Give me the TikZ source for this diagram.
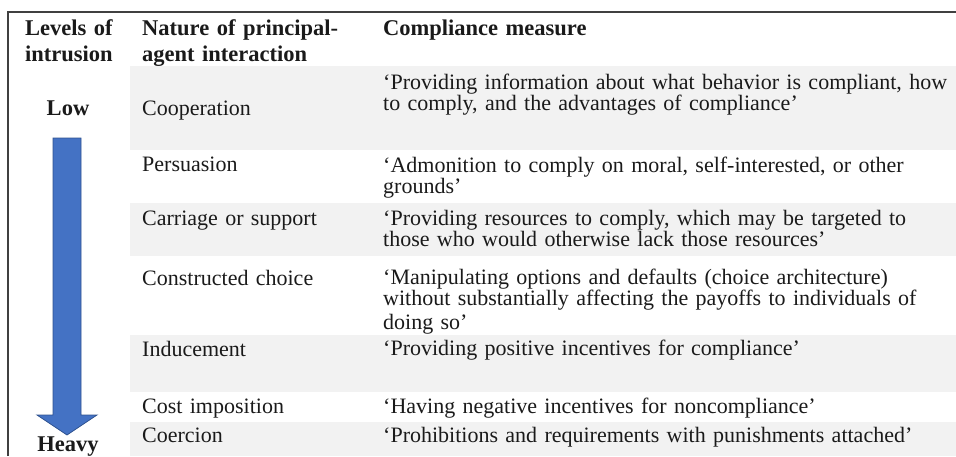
\documentclass[tikz,border=0pt]{standalone}
\usepackage{fontspec}
\setmainfont{Liberation Serif}
\definecolor{shade}{HTML}{F2F2F2}
\definecolor{rule}{HTML}{404040}
\definecolor{arrowfill}{HTML}{4472C4}
\definecolor{arrowedge}{HTML}{2F528F}
\definecolor{ink}{HTML}{1A1A1A}
\begin{document}
\begin{tikzpicture}[x=1pt,y=-1pt,
  cell/.style={anchor=base west,inner sep=0pt,text width=#1,align=left,text=ink,
    font=\fontsize{22}{19.5}\selectfont},
  cell/.default=600pt,
  head/.style={anchor=base west,inner sep=0pt,text width=#1,align=left,text=ink,
    font=\fontsize{22.5}{26}\selectfont\bfseries},
  head/.default=230pt,
  level/.style={anchor=base,inner sep=0pt,text=ink,font=\fontsize{22.5}{26}\selectfont\bfseries},
  band/.style={fill=shade,draw=none}]
\useasboundingbox (0,0) rectangle (956,456);
% shaded bands
\fill[band] (130,66) rectangle (956,150);
\fill[band] (130,203) rectangle (956,256);
\fill[band] (130,335) rectangle (956,392);
\fill[band] (130,422) rectangle (956,456);
% frame
\draw[rule,line width=1.1pt] (8,456) -- (8,12) -- (956,12);
% arrow
\draw[fill=arrowfill,draw=arrowedge,line width=0.8pt,line join=miter]
  (53,138) -- (81,138) -- (81,415) -- (97,415) -- (67,435) -- (37,415) -- (53,415) -- cycle;
% headers
\node[head=110pt] (h1) at (25,35) {Levels of\\intrusion};
\node[head] (h2) at (142,35) {Nature of principal-\\agent interaction};
\node[head] (h3) at (383,35) {Compliance measure};
\node[level] (low) at (68,115) {Low};
\node[level] (heavy) at (68,451) {Heavy};
% column 2
\node[cell=230pt] (n1) at (142,115) {Cooperation};
\node[cell=230pt] (n2) at (142,171) {Persuasion};
\node[cell=230pt] (n3) at (142,225) {Carriage or support};
\node[cell=230pt] (n4) at (142,285) {Constructed choice};
\node[cell=230pt] (n5) at (142,356) {Inducement};
\node[cell=230pt] (n6) at (142,413) {Cost imposition};
\node[cell=230pt] (n7) at (142,442) {Coercion};
% column 3
\node[cell] (m1) at (383,89) {‘Providing information about what behavior is compliant, how\\to comply, and the advantages of compliance’};
\node[cell] (m2) at (383,172) {‘Admonition to comply on moral, self-interested, or other\\grounds’};
\node[cell] (m3) at (383,225) {‘Providing resources to comply, which may be targeted to\\those who would otherwise lack those resources’};
\node[cell] (m4) at (383,284) {‘Manipulating options and defaults (choice architecture)\\without substantially affecting the payoffs to individuals of\\[3pt]doing so’};
\node[cell] (m5) at (383,355) {‘Providing positive incentives for compliance’};
\node[cell] (m6) at (383,413) {‘Having negative incentives for noncompliance’};
\node[cell] (m7) at (383,442) {‘Prohibitions and requirements with punishments attached’};
\end{tikzpicture}
\end{document}
